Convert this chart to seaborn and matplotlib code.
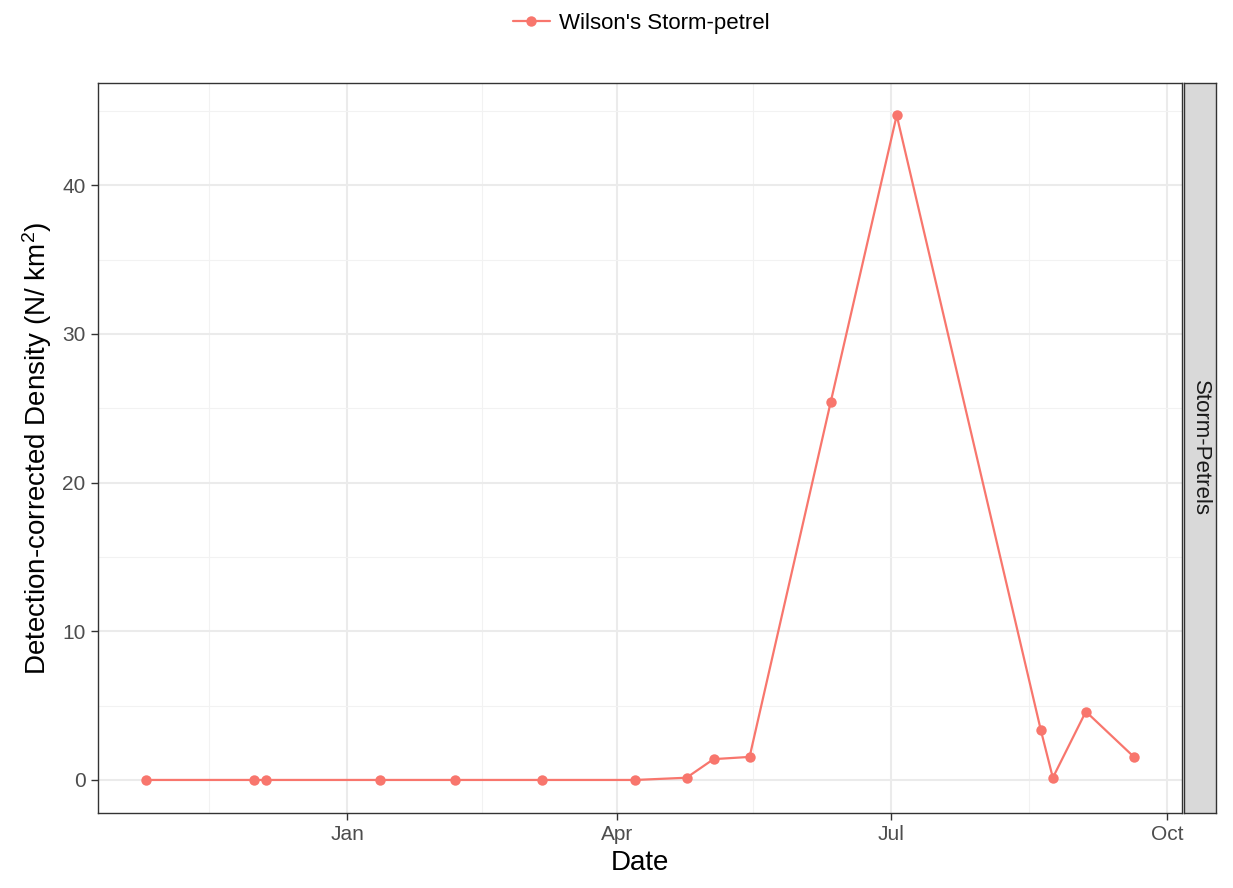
import pandas as pd
import seaborn as sns
import matplotlib.pyplot as plt
import matplotlib.dates as mdates
import numpy as np

# data
dates = ["2017-10-26", "2017-12-01", "2017-12-05", "2018-01-12", "2018-02-06",
         "2018-03-07", "2018-04-07", "2018-04-24", "2018-05-03", "2018-05-15",
         "2018-06-11", "2018-07-03", "2018-08-20", "2018-08-24", "2018-09-04",
         "2018-09-20"]
density = [0.0, 0.0, 0.0, 0.0, 0.0, 0.0, 0.0, 0.15, 1.4, 1.55,
           25.4, 44.7, 3.35, 0.15, 4.6, 1.55]
species = ["Wilson's Storm-petrel"] * len(dates)
group_label = "Storm-Petrels"

df = pd.DataFrame({"Date": pd.to_datetime(dates), "Density": density, "Species": species})

sns.set_style("white")
plt.rcParams['font.family'] = ['Liberation Sans', 'DejaVu Sans']
plt.rcParams['mathtext.fontset'] = 'custom'
plt.rcParams['mathtext.rm'] = 'Liberation Sans'
plt.rcParams['mathtext.default'] = 'regular'

fig = plt.figure(figsize=(12.33, 8.88), dpi=100)
ax = fig.add_axes([0.0795, 0.0845, 0.8791, 0.822])

sns.lineplot(data=df, x="Date", y="Density", hue="Species", palette=["#F8766D"],
             marker="o", markersize=7.5, markeredgewidth=0, linewidth=1.6, ax=ax, legend=True)

# axis limits
ax.set_xlim(pd.Timestamp("2017-10-10"), pd.Timestamp("2018-10-06"))
ax.set_ylim(-2.22, 46.87)

# ticks and grid
ax.xaxis.set_major_locator(mdates.MonthLocator(bymonth=[1, 4, 7, 10]))
ax.xaxis.set_major_formatter(mdates.DateFormatter("%b"))
minor_dates = pd.to_datetime(["2017-11-16", "2018-02-15", "2018-05-16", "2018-08-16"])
ax.set_xticks(mdates.date2num(minor_dates), minor=True)
ax.set_yticks([0, 10, 20, 30, 40])
ax.set_yticks([5, 15, 25, 35, 45], minor=True)
ax.grid(which="major", color="#EBEBEB", linewidth=1.5)
ax.grid(which="minor", color="#F2F2F2", linewidth=0.8)
ax.set_axisbelow(True)
ax.tick_params(which="major", length=5, width=1, color="#333333", pad=4,
               labelsize=15, labelcolor="#4D4D4D", direction="out", bottom=True, left=True)
ax.tick_params(which="minor", length=0)
for s in ax.spines.values():
    s.set_color("#333333")
    s.set_linewidth(1)

ax.set_xlabel("Date", fontsize=20, color="black", labelpad=4)
ax.set_ylabel("Detection-corrected Density (N/ km$^2$)", fontsize=20, color="black", labelpad=6)

# legend at top
handles, labels = ax.get_legend_handles_labels()
ax.get_legend().remove()
leg = fig.legend(handles, labels, loc="upper center", bbox_to_anchor=(0.52, 1.008),
                 frameon=False, fontsize=16, handlelength=1.7, handletextpad=0.4)
for t in leg.get_texts():
    t.set_color("black")

# facet strip on the right
sax = fig.add_axes([0.9603, 0.0845, 0.0260, 0.822])
sax.set_facecolor("#D9D9D9")
sax.set_xticks([])
sax.set_yticks([])
for s in sax.spines.values():
    s.set_color("#333333")
    s.set_linewidth(1)
sax.text(0.5, 0.5, group_label, rotation=-90, ha="center", va="center",
         fontsize=16, color="#1A1A1A", transform=sax.transAxes)

fig.savefig("out.png", dpi=100)
